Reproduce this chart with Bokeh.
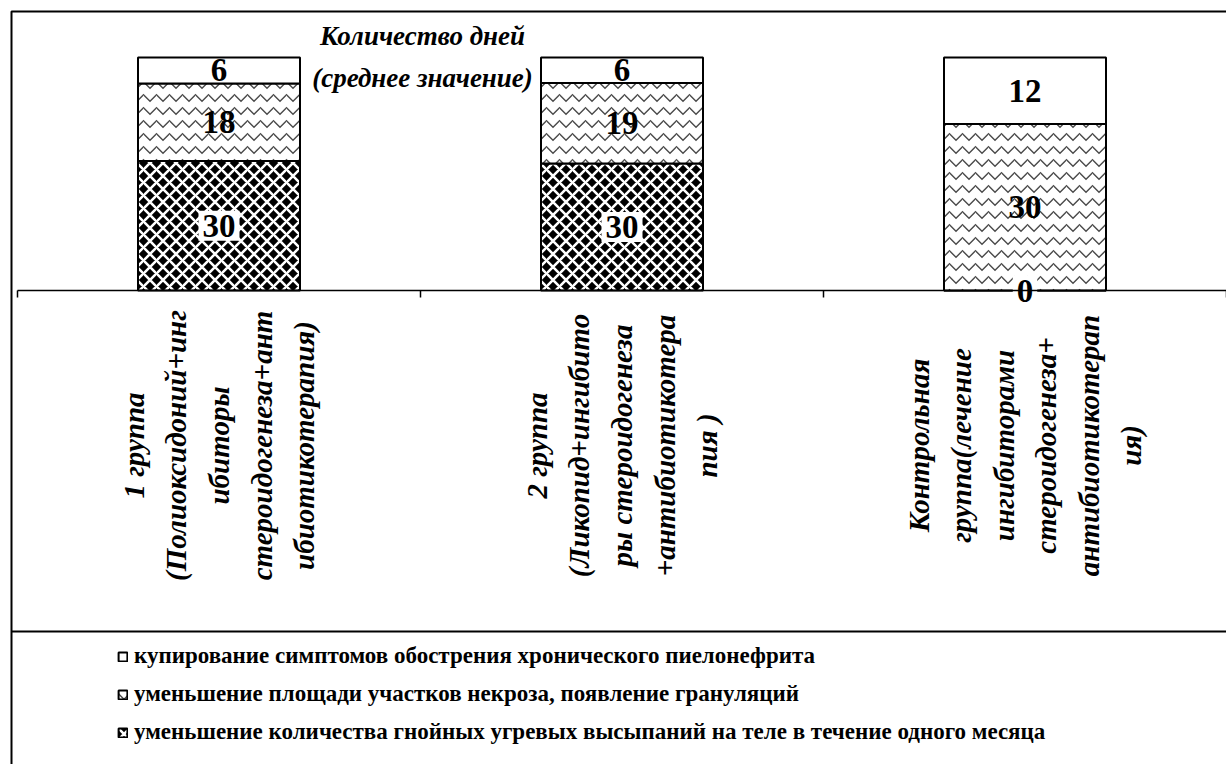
import math

from bokeh.core.properties import value
from bokeh.embed import file_html
from bokeh.models import ColumnDataSource, Legend, LegendItem, Range1d
from bokeh.plotting import figure
from bokeh.resources import INLINE

# ---- data ---------------------------------------------------------------
groups = ["1 группа", "2 группа", "Контрольная группа"]
group_labels = [
    "1 группа\n(Полиоксидоний+инг\nибиторы\nстероидогенеза+ант\nибиотикотерапия)",
    "2 группа\n(Ликопид+ингибито\nры стероидогенеза\n+антибиотикотера\nпия )",
    "Контрольная\nгруппа(лечение\nингибиторами\nстероидогенеза+\nантибиотикотерап\nия)",
]

# days (mean), stacked from the bottom up
acne_days = [30, 30, 0]
necrosis_days = [18, 19, 30]
relief_days = [6, 6, 12]

series_names = [
    "уменьшение количества гнойных угревых высыпаний на теле в течение одного месяца",
    "уменьшение площади участков некроза, появление грануляций",
    "купирование симптомов обострения хронического пиелонефрита",
]
chart_title = "Количество дней\n(среднее значение)"

# ---- page geometry (pixels) --------------------------------------------
W, H = 1226, 764
AXIS_LEFT = 17      # left end of the category axis
CAT_PX = 403        # width of one category slot
BASE_PX = 290       # pixel row of the 0 % baseline
TOP_PX = 57         # pixel row of the 100 % line
PX_PER_PCT = (BASE_PX - TOP_PX) / 100.0
SERIF = "Liberation Serif"


def dx(px):
    return (px - AXIS_LEFT) / CAT_PX


def dy(py):
    return (BASE_PX - py) / PX_PER_PCT


# ---- 100 % stacked columns ----------------------------------------------
series = [acne_days, necrosis_days, relief_days]
totals = [sum(v) for v in zip(*series)]
keys = ["acne", "necrosis", "relief"]
data = {"x": [i + 0.5 for i in range(len(groups))]}
for k, vals in zip(keys, series):
    data[k] = [100.0 * v / t for v, t in zip(vals, totals)]
source = ColumnDataSource(data)

p = figure(
    width=W, height=H,
    x_range=Range1d(dx(0), dx(W)), y_range=Range1d(dy(H), dy(0)),
    output_backend="svg", toolbar_location=None,
    x_axis_location=None, y_axis_location=None,
    min_border=0, outline_line_color=None,
)
p.xgrid.visible = False
p.ygrid.visible = False
p.background_fill_color = "white"
p.border_fill_color = "white"

bars = p.vbar_stack(
    keys, x="x", width=162 / CAT_PX, source=source,
    fill_color=["black", "white", "white"],
    hatch_pattern=["diagonal_cross", "horizontal_wave", " "],
    hatch_color=["white", "#4a4a4a", "white"],
    hatch_weight=[2.6, 1.4, 1],
    hatch_scale=[13, 13, 10],
    line_color="black", line_width=2,
)

# value labels in the middle of every segment
cum = [0.0] * len(groups)
for k, vals in zip(keys, series):
    xs, ys, txt = [], [], []
    for i, v in enumerate(vals):
        share = data[k][i]
        xs.append(data["x"][i])
        ys.append(cum[i] + share / 2)
        txt.append(str(v))
        cum[i] += share
    lbl = ColumnDataSource(dict(x=xs, y=ys, t=txt))
    extra = {}
    if k == "acne":
        extra = dict(background_fill_color="white", padding=4)
    p.text(
        x="x", y="y", text="t", source=lbl,
        text_font=value(SERIF), text_font_style="bold", text_font_size="33px",
        text_align="center", text_baseline="middle", text_color="black",
        **extra,
    )

# category axis: baseline and tick marks between the categories
n = len(groups)
p.segment(x0=[0], y0=[0], x1=[n], y1=[0], line_color="black", line_width=1.5)
p.segment(x0=list(range(n + 1)), y0=[0] * (n + 1),
          x1=list(range(n + 1)), y1=[dy(BASE_PX + 7)] * (n + 1),
          line_color="black", line_width=1.5)

# rotated category names
p.text(
    x=data["x"], y=[dy(445)] * n, text=group_labels, angle=math.pi / 2,
    text_font=value(SERIF), text_font_style="bold italic", text_font_size="29px",
    text_align="center", text_baseline="middle", text_line_height=1.33,
    text_color="black",
)

# chart title
p.text(
    x=[dx(422)], y=[dy(56)], text=[chart_title],
    text_font=value(SERIF), text_font_style="bold italic", text_font_size="27px",
    text_align="center", text_baseline="middle", text_line_height=1.4,
    text_color="black",
)

# chart frame and legend divider
p.line(x=[dx(11), dx(11), dx(W + 20)], y=[dy(H + 20), dy(11), dy(11)],
       line_color="black", line_width=2)
p.line(x=[dx(11), dx(W + 20)], y=[dy(631), dy(631)],
       line_color="black", line_width=2)

# legend, listed top series first
items = [LegendItem(label=series_names[i], renderers=[bars[i]]) for i in (2, 1, 0)]
legend = Legend(
    items=items, location=(117, 19), orientation="vertical",
    glyph_width=11, glyph_height=11, label_standoff=6,
    label_height=26, spacing=12, padding=0, margin=0,
    label_text_font=SERIF, label_text_font_style="bold",
    label_text_font_size="23px", label_text_color="black",
    border_line_color=None, background_fill_alpha=0,
)
p.add_layout(legend)

open("out.html", "w").write(file_html(p, INLINE))
